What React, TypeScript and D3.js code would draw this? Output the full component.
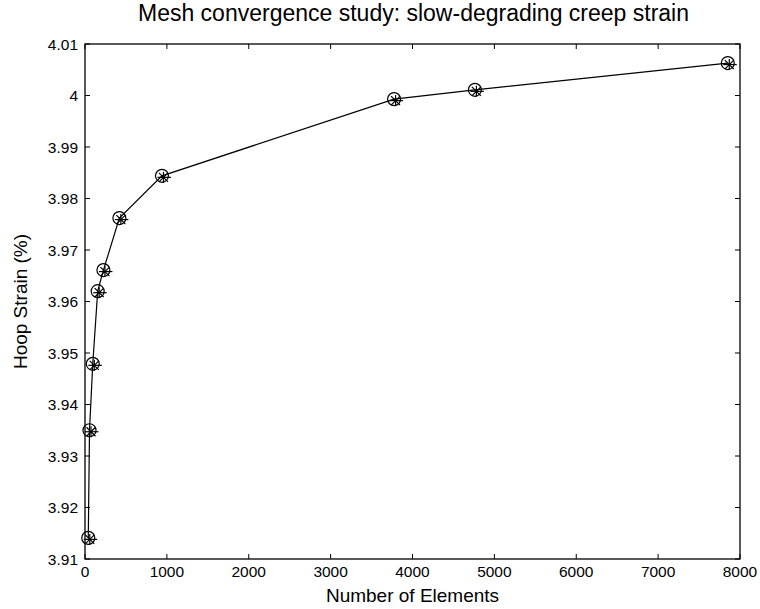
import React from "react";
import * as d3 from "d3";

const elements = [40, 55, 95, 155, 225, 420, 940, 3775, 4762, 7851];
const hoopStrain = [3.9141, 3.935, 3.9479, 3.962, 3.9661, 3.9762, 3.9844, 3.9993, 4.0011, 4.0063];
const xTicks = [0, 1000, 2000, 3000, 4000, 5000, 6000, 7000, 8000];
const yTicks = [3.91, 3.92, 3.93, 3.94, 3.95, 3.96, 3.97, 3.98, 3.99, 4.0, 4.01];
const yTickLabels = ["3.91", "3.92", "3.93", "3.94", "3.95", "3.96", "3.97", "3.98", "3.99", "4", "4.01"];

const W = 760;
const H = 609;
const L = 85, R = 740, T = 44, B = 559;
const FONT = "'Liberation Sans', Arial, Helvetica, sans-serif";

export default function App() {
  const x = d3.scaleLinear().domain([0, 8000]).range([L, R]);
  const y = d3.scaleLinear().domain([3.91, 4.01]).range([B, T]);
  const line = d3.line<number>().x((d, i) => x(elements[i])).y((d) => y(d));
  const tl = 5;

  return (
    <div style={{ position: "fixed", left: 0, top: 0 }}>
      <svg width={W} height={H} style={{ display: "block", background: "#fff" }}>
        <rect x={0} y={0} width={W} height={H} fill="#fff" />
        {/* frame */}
        <rect x={L} y={T} width={R - L} height={B - T} fill="none" stroke="#000" strokeWidth={1.3} />
        {/* x ticks */}
        {xTicks.map((t) => (
          <g key={"x" + t}>
            <line x1={x(t)} x2={x(t)} y1={B} y2={B - tl} stroke="#000" strokeWidth={1} />
            <line x1={x(t)} x2={x(t)} y1={T} y2={T + tl} stroke="#000" strokeWidth={1} />
            <text x={x(t)} y={577} textAnchor="middle" fontFamily={FONT} fontSize={15.5} fill="#000">
              {t}
            </text>
          </g>
        ))}
        {/* y ticks */}
        {yTicks.map((t, i) => (
          <g key={"y" + t}>
            <line x1={L} x2={L + tl} y1={y(t)} y2={y(t)} stroke="#000" strokeWidth={1} />
            <line x1={R} x2={R - tl} y1={y(t)} y2={y(t)} stroke="#000" strokeWidth={1} />
            <text x={78} y={y(t) + 5.5} textAnchor="end" fontFamily={FONT} fontSize={15.5} fill="#000">
              {yTickLabels[i]}
            </text>
          </g>
        ))}
        {/* line */}
        <path d={line(hoopStrain) || ""} fill="none" stroke="#000" strokeWidth={1.2} />
        {/* markers */}
        {hoopStrain.map((v, i) => {
          const cx = x(elements[i]);
          const cy = y(v);
          const ax = cx + 1.5;
          const ay = cy + 1.5;
          const d = 4.5;
          return (
            <g key={"m" + i} stroke="#000" strokeWidth={1.2} fill="none">
              <circle cx={cx} cy={cy} r={6.5} />
              <line x1={ax - 6} x2={ax + 7.5} y1={ay} y2={ay} />
              <line x1={ax} x2={ax} y1={ay - 5.5} y2={ay + 5.5} />
              <line x1={ax - d} x2={ax + d} y1={ay - d} y2={ay + d} />
              <line x1={ax - d} x2={ax + d} y1={ay + d} y2={ay - d} />
            </g>
          );
        })}
        {/* title */}
        <text x={(L + R) / 2 + 1} y={21} textAnchor="middle" fontFamily={FONT} fontSize={23} fill="#000">
          Mesh convergence study: slow-degrading creep strain
        </text>
        {/* x label */}
        <text x={(L + R) / 2} y={602} textAnchor="middle" fontFamily={FONT} fontSize={19} fill="#000">
          Number of Elements
        </text>
        {/* y label */}
        <text
          transform={`translate(27, ${(T + B) / 2}) rotate(-90)`}
          textAnchor="middle"
          fontFamily={FONT}
          fontSize={19}
          fill="#000"
        >
          Hoop Strain (%)
        </text>
      </svg>
    </div>
  );
}
